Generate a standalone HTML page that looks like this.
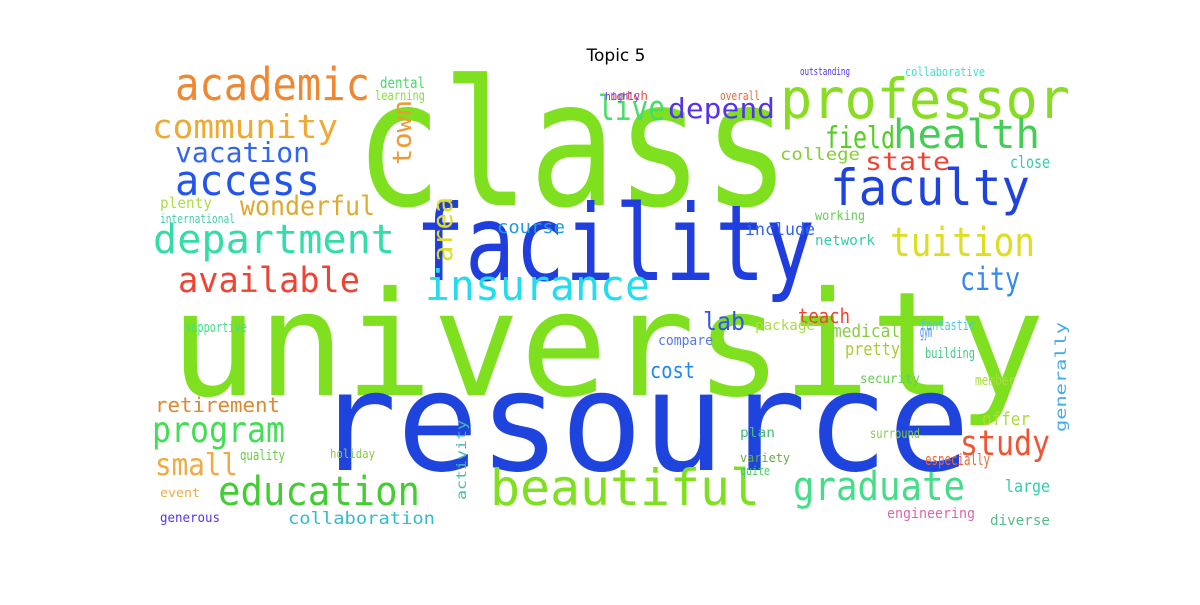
<!DOCTYPE html>
<html><head><meta charset="utf-8"><style>
body{margin:0;background:#fff}
svg text{font-family:"DejaVu Sans Mono","Liberation Mono",monospace}
</style></head><body>
<svg width="1200" height="600" viewBox="0 0 1200 600">
<text x="616" y="61" text-anchor="middle" style="font-family:'DejaVu Sans','Liberation Sans',sans-serif" font-size="17" fill="#000">Topic 5</text>
<g id="cloud"></g>
</svg>
<script>
const words = ["class","university","resource","facility","professor","academic","faculty","health","field","community","vacation","access","wonderful","department","available","insurance","tuition","city","program","retirement","small","education","beautiful","graduate","study","live","depend","state","college","close","include","course","lab","teach","medical","cost","pretty","offer","large","diverse","collaboration","quality","engineering","plenty","international","supportive","dental","learning","notch","network","working","package","fantastic","compare","security","building","member","generous","event","holiday","plan","variety","quite","especially","surround","activity","gym","highly","overall","outstanding","collaborative","generally","town","area"];
const xs = [355,170,315,415,780,175,830,893,825,152,175,175,240,153,178,425,890,960,152,155,155,218,490,793,960,598,668,865,780,1010,745,497,703,798,832,650,845,982,1005,990,288,240,887,160,160,185,380,375,610,815,815,755,920,658,860,925,975,160,160,330,740,740,740,925,870,466,920,605,720,800,905,1066,411,452];
const ys = [205,395,470,280,118,100,205,148,148,138,162,195,215,253,292,300,256,290,442,412,475,505,505,500,455,120,118,170,160,168,235,233,330,323,337,378,355,425,492,525,524,460,518,208,223,332,88,100,100,245,220,330,330,345,383,358,385,522,497,458,437,462,475,465,438,500,337,100,100,75,76,432,165,262];
const ws = [435,875,655,400,290,195,200,147,70,186,135,145,135,242,182,225,145,60,133,125,83,202,270,172,90,67,107,85,80,40,70,68,42,52,68,45,55,48,45,60,147,45,88,52,75,62,45,50,38,60,50,60,55,55,60,50,40,60,40,45,35,50,30,65,50,80,12,35,40,50,80,110,65,65];
const fs = [175,145,138,105,55,45,50,40,30,33,28,42,27,40,35,42,40,32,36,20,30,40,50,40,35,35,28,25,17,17,17,18,25,20,18,22,18,18,17,14,17,14,14,15,12,14,15,13,12,14,13,14,14,14,13,14,14,13,12,12,13,12,12,16,13,13,16,11,12,11,12,15,26,28];
const cols = ["#7ee01f","#7ee01f","#1f44dd","#1f3edd","#88dd22","#ee8833","#1f44dd","#44cc55","#55cc22","#eeaa33","#3366ee","#2255ee","#ddaa33","#33ddaa","#ee4433","#22ddee","#dddd22","#3388ee","#44dd55","#dd8833","#eeaa44","#44cc33","#7ee01f","#44dd88","#ee5533","#44dd66","#5533ee","#ee4433","#88cc33","#33ccaa","#3366ee","#2299dd","#3355ee","#ee4433","#88cc44","#2288ee","#aacc33","#aadd33","#33ccaa","#55bb88","#33bbcc","#66cc44","#dd66aa","#aadd44","#44ccaa","#44dd88","#44dd66","#88dd44","#ee5533","#33ccaa","#66cc55","#aadd44","#44ccdd","#5577ee","#66cc55","#44cc88","#aadd44","#5533ee","#eeaa44","#88cc44","#44bb77","#66aa44","#44cc66","#ee6633","#88cc44","#44bbaa","#4488ee","#7733ee","#ee6633","#5533ee","#44ddcc","#44aaee","#ee9933","#dddd22"];
const rot = [0,0,0,0,0,0,0,0,0,0,0,0,0,0,0,0,0,0,0,0,0,0,0,0,0,0,0,0,0,0,0,0,0,0,0,0,0,0,0,0,0,0,0,0,0,0,0,0,0,0,0,0,0,0,0,0,0,0,0,0,0,0,0,0,0,1,0,0,0,0,0,1,1,1];
const g = document.getElementById('cloud');
for (let i = 0; i < words.length; i++) {
  const t = document.createElementNS('http://www.w3.org/2000/svg','text');
  t.setAttribute('font-size', fs[i]);
  t.setAttribute('fill', cols[i]);
  t.setAttribute('textLength', ws[i]);
  t.setAttribute('lengthAdjust', 'spacingAndGlyphs');
  if (rot[i]) {
    t.setAttribute('x', 0); t.setAttribute('y', 0);
    t.setAttribute('transform', 'translate(' + xs[i] + ',' + ys[i] + ') rotate(-90)');
  } else {
    t.setAttribute('x', xs[i]); t.setAttribute('y', ys[i]);
  }
  t.textContent = words[i];
  
  
  g.appendChild(t);
}
</script>
</body></html>
